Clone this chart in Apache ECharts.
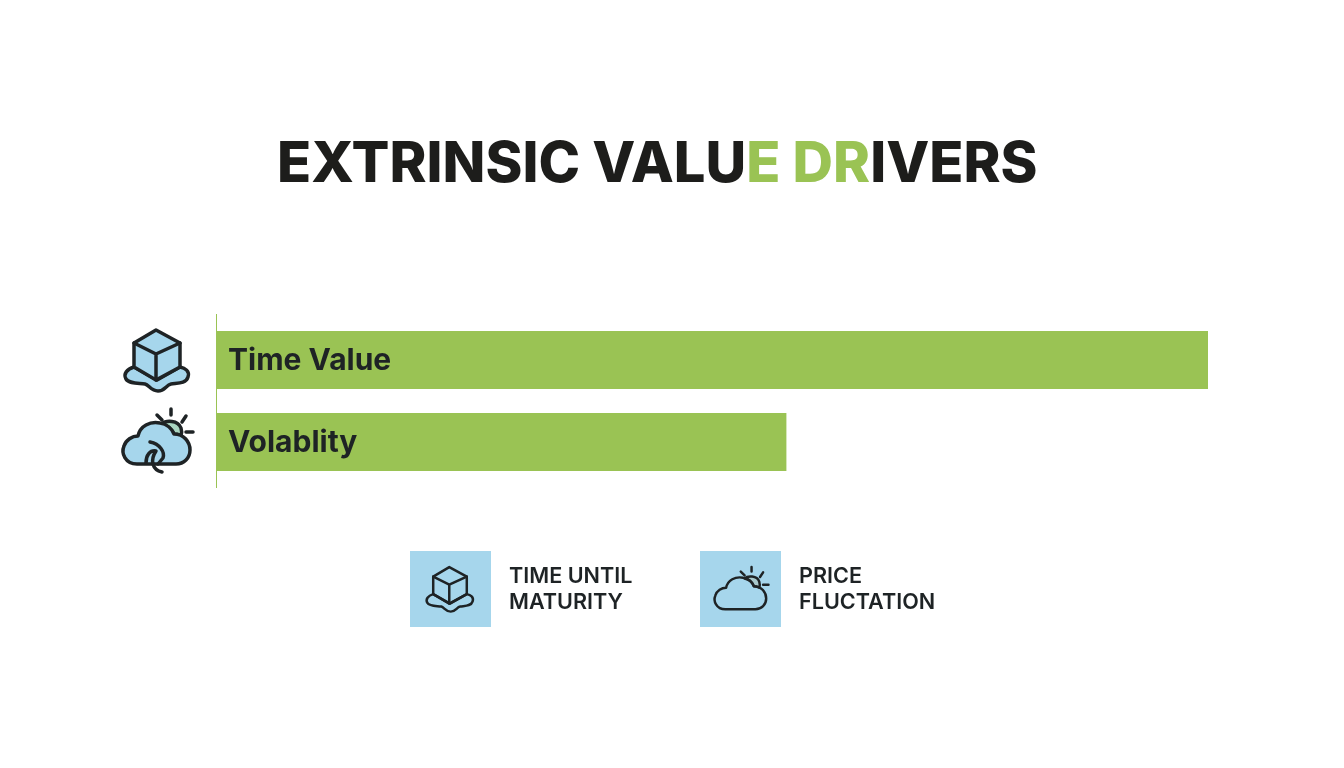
<!DOCTYPE html>
<html>
<head>
<meta charset="utf-8">
<title>Extrinsic Value Drivers</title>
<style>
  html, body { margin: 0; background: #fff; }
  #main { width: 1344px; height: 768px; }
</style>
<script src="https://cdn.jsdelivr.net/npm/echarts@6/dist/echarts.min.js"></script>
</head>
<body>
<div id="main"></div>
<script>
// chart values
const categories = ['Time Value', 'Volablity'];
const values = [100, 57.5];
const titleParts = ['EXTRINSIC VALU', 'E DR', 'IVERS'];
const legendLabels = ['TIME UNTIL\nMATURITY', 'PRICE\nFLUCTATION'];

const GREEN = '#9AC354';
const BLUE = '#A6D6EC';
const DARK = '#1E2325';
const FONT = 'Inter';

// icon shapes, drawn around 0,0
const iconShapes = {
  puddle: 'M-23 7 C-30 9 -34 14 -31 19 C-28 24 -18 23 -12 24 C-8 25 -6 31 1 31 C8 31 9 25 14 24 C20 23 29 24 31 17 C33 11 28 8 23 7 L0 20 Z',
  cubeFace: 'M-1 -30 L23 -17 L23 7 L-1 20 L-23 7 L-23 -17 Z',
  cubeEdges: 'M-23 -17 L-1 -6 L23 -17 M-1 -6 L-1 20',
  cloud: 'M-19 27 C-31 27 -35 16 -32 9 C-30 3 -24 -1 -18 -1 C-16 -11 -6 -16 4 -14 C11 -13 16 -8 18 -3 C28 -3 34 5 34 13 C34 21 28 27 20 27 Z',
  sun: 'M6 -13 C10 -17 22 -17 25 -9 C26 -6 26 -4 25 -1 C23 -2 20 -3 18 -3 C16 -8 11 -12 6 -13 Z',
  rays: 'M15 -28 L15 -22 M1 -22 L6 -17 M30 -21 L26 -15 M30 -5 L37 -5',
  swirl: 'M-6 5 C4 7 9 15 7 21 L2 27 M-10 26 C-10 18 -6 13 0 14 C-6 23 -4 33 6 35'
};

// the graphic component has no path type, so register each one as a shape
Object.keys(iconShapes).forEach(function (name) {
  echarts.graphic.registerShape(name, echarts.graphic.extendPath(iconShapes[name]));
});

function cubeIcon(x, y, scale, filled, lineWidth) {
  const line = { stroke: DARK, lineWidth: lineWidth, lineJoin: 'round', lineCap: 'round' };
  return {
    type: 'group', x: x, y: y, scaleX: scale, scaleY: scale,
    children: [
      { type: 'puddle', style: { ...line, fill: filled ? BLUE : 'none' } },
      { type: 'cubeFace', style: { ...line, fill: filled ? BLUE : 'none' } },
      { type: 'cubeEdges', style: { ...line, fill: 'none' } }
    ]
  };
}

function cloudIcon(x, y, scale, filled, lineWidth) {
  const line = { stroke: DARK, lineWidth: lineWidth, lineJoin: 'round', lineCap: 'round' };
  const children = [
    { type: 'sun', style: { ...line, fill: filled ? '#A9D5C0' : '#A9C9CC' } },
    { type: 'rays', style: { ...line, fill: 'none' } },
    { type: 'cloud', style: { ...line, fill: filled ? BLUE : 'none' } }
  ];
  if (filled) {
    children.push({ type: 'swirl', style: { ...line, fill: 'none' } });
  }
  return { type: 'group', x: x, y: y, scaleX: scale, scaleY: scale, children: children };
}

const chart = echarts.init(document.getElementById('main'));

chart.setOption({
  animation: false,
  backgroundColor: '#fff',
  title: {
    left: 272,
    top: 132,
    text: '{d|' + titleParts[0] + '}{g|' + titleParts[1] + '}{d|' + titleParts[2] + '}',
    textStyle: {
      rich: {
        d: { fontFamily: FONT, fontSize: 56, fontWeight: 800, color: '#1D1D1B' },
        g: { fontFamily: FONT, fontSize: 56, fontWeight: 800, color: GREEN }
      }
    }
  },
  grid: { left: 216, top: 319, width: 992, height: 164 },
  xAxis: { type: 'value', min: 0, max: 100, show: false },
  yAxis: {
    type: 'category',
    data: categories,
    inverse: true,
    axisLine: { show: false },
    axisTick: { show: false },
    axisLabel: { show: false }
  },
  series: [{
    type: 'bar',
    data: values,
    barWidth: 58,
    itemStyle: { color: GREEN },
    label: {
      show: true,
      position: 'insideLeft',
      distance: 12,
      offset: [0, 1],
      formatter: '{b}',
      fontFamily: FONT,
      fontSize: 30,
      fontWeight: 700,
      color: DARK
    }
  }],
  graphic: [
    // axis line runs a bit past the bars
    { type: 'line', shape: { x1: 216.5, y1: 314, x2: 216.5, y2: 488 }, style: { stroke: GREEN, lineWidth: 1 } },
    cubeIcon(157, 360, 1, true, 3.5),
    cloudIcon(156, 437, 1, true, 3.5),
    // legend
    { type: 'rect', shape: { x: 410, y: 551, width: 81, height: 76 }, style: { fill: BLUE } },
    { type: 'rect', shape: { x: 700, y: 551, width: 81, height: 76 }, style: { fill: BLUE } },
    cubeIcon(450, 589, 0.73, false, 3.4),
    cloudIcon(740, 588.5, 0.77, false, 3.2),
    { type: 'text', x: 509, y: 563, style: { text: legendLabels[0], fontFamily: FONT, fontSize: 21.6, fontWeight: 600, lineHeight: 26, fill: DARK } },
    { type: 'text', x: 799, y: 563, style: { text: legendLabels[1], fontFamily: FONT, fontSize: 21.6, fontWeight: 600, lineHeight: 26, fill: DARK } }
  ]
});
</script>
</body>
</html>
